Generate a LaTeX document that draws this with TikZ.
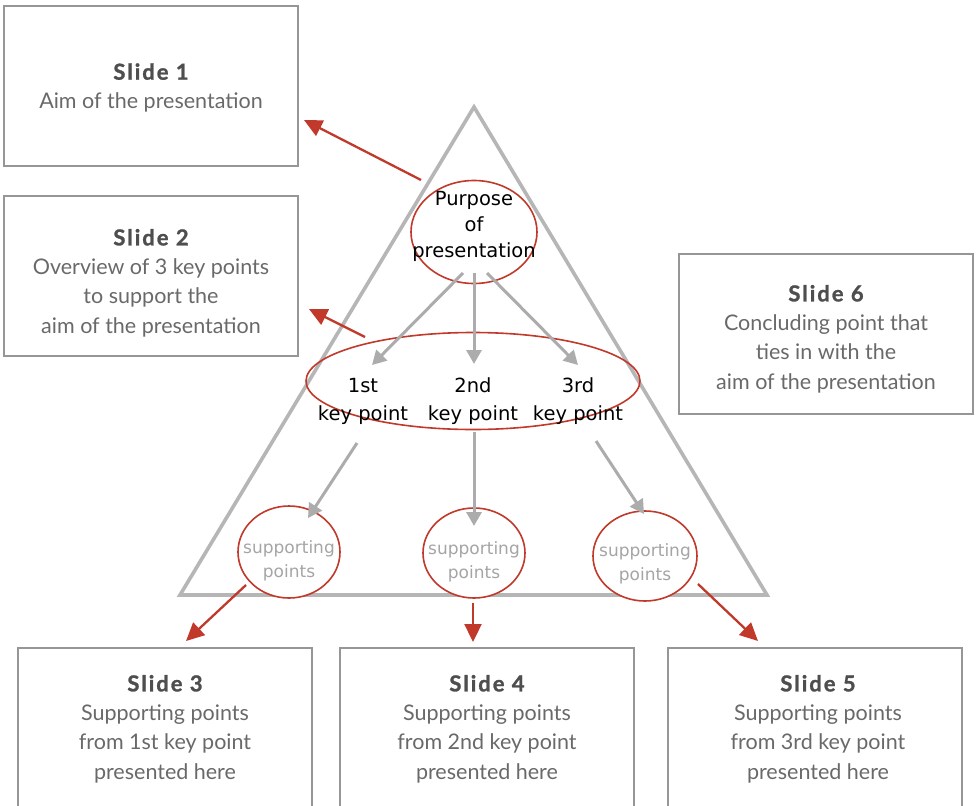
\documentclass[tikz,border=0pt]{standalone}
\usepackage{fontspec}
\setmainfont{Lato}
\newfontfamily\handfont{DejaVu Sans}
\usetikzlibrary{arrows.meta,shapes.geometric}
\definecolor{accent}{RGB}{192,57,43}
\definecolor{tri}{RGB}{182,182,182}
\definecolor{arrowgray}{RGB}{172,172,172}
\definecolor{frame}{RGB}{150,150,150}
\definecolor{titlegray}{RGB}{78,78,78}
\definecolor{bodygray}{RGB}{105,105,105}
\definecolor{softgray}{RGB}{165,165,165}
\begin{document}
\begin{tikzpicture}[x=1pt,y=-1pt,
  slidebox/.style={draw=frame,line width=1.3pt,minimum width=294pt,minimum height=160pt,inner sep=0pt},
  slidetext/.style={align=center,text=bodygray,font=\fontsize{21.5}{29.3}\selectfont,inner sep=0pt},
  hand/.style={font=\handfont\fontsize{19.5}{26}\selectfont,align=center,inner sep=0pt},
  keytext/.style={hand,font=\handfont\fontsize{19.5}{28}\selectfont},
  softtext/.style={hand,text=softgray,font=\handfont\fontsize{17}{24}\selectfont},
  ring/.style={draw=accent,line width=1.6pt,ellipse,inner sep=0pt},
  redarrow/.style={draw=accent,line width=2.3pt,-{Triangle[length=18pt,width=17pt]}},
  grayarrow/.style={draw=arrowgray,line width=3pt,-{Triangle[length=14pt,width=15pt]}}]
\useasboundingbox (0,0) rectangle (978,806);
\clip (0,0) rectangle (978,806);

% slide boxes and their texts
\newcommand{\slidetitle}[1]{{\fontsize{22}{29.3}\selectfont\bfseries\addfontfeature{LetterSpace=9,FakeBold=1.2}\color{titlegray}#1}}
\node[slidebox] (s1) at (151,86) {};
\node[slidebox] (s2) at (151,276) {};
\node[slidebox] (s6) at (826,334) {};
\node[slidebox] (s3) at (165,728) {};
\node[slidebox] (s4) at (487,728) {};
\node[slidebox] (s5) at (815,728) {};
\node[slidetext] (s1t) at (151,88) {\slidetitle{Slide 1}\\Aim of the presentation};
\node[slidetext] (s2t) at (151,283) {\slidetitle{Slide 2}\\Overview of 3 key points\\to support the\\aim of the presentation};
\node[slidetext] (s6t) at (826,339) {\slidetitle{Slide 6}\\Concluding point that\\ties in with the\\aim of the presentation};
\node[slidetext] (s3t) at (165,729) {\slidetitle{Slide 3}\\Supporting points\\from 1st key point\\presented here};
\node[slidetext] (s4t) at (487,729) {\slidetitle{Slide 4}\\Supporting points\\from 2nd key point\\presented here};
\node[slidetext] (s5t) at (818,729) {\slidetitle{Slide 5}\\Supporting points\\from 3rd key point\\presented here};

% the pyramid
\draw[tri,line width=3.6pt,line join=miter] (474,107) -- (767,595) -- (180,595) -- cycle;

% purpose and key points
\node[ring,minimum width=126pt,minimum height=103pt] (purpose) at (474,232) {};
\node[hand] (ptext) at (474,226) {Purpose\\of\\presentation};
\node[ring,minimum width=334pt,minimum height=97pt] (keys) at (473,381) {};
\node[keytext] (k1) at (363,401) {1st\\key point};
\node[keytext] (k2) at (473,401) {2nd\\key point};
\node[keytext] (k3) at (578,401) {3rd\\key point};

% supporting points
\node[ring,fill=white,minimum width=102pt,minimum height=92pt] (c1) at (289,552) {};
\node[ring,fill=white,minimum width=102pt,minimum height=90pt] (c2) at (474,553) {};
\node[ring,fill=white,minimum width=104pt,minimum height=90pt] (c3) at (645,556) {};
\node[softtext] (t1) at (289,561) {supporting\\points};
\node[softtext] (t2) at (474,562) {supporting\\points};
\node[softtext] (t3) at (645,564) {supporting\\points};

% connector ends
\coordinate (pa) at (463,273);
\coordinate (pb) at (474,273);
\coordinate (pc) at (487,273);
\coordinate (ka) at (372,365);
\coordinate (kb) at (474,364);
\coordinate (kc) at (578,365);
\coordinate (la) at (357,443);
\coordinate (lb) at (474,432);
\coordinate (lc) at (596,441);
\coordinate (sa) at (308,518);
\coordinate (sb) at (474,526);
\coordinate (sc) at (644,514);

% gray flow inside the pyramid
\draw[grayarrow] (pa) -- (ka);
\draw[grayarrow] (pb) -- (kb);
\draw[grayarrow] (pc) -- (kc);
\draw[grayarrow] (la) -- (sa);
\draw[grayarrow] (lb) -- (sb);
\draw[grayarrow] (lc) -- (sc);

% red arrows to the slides
\coordinate (r1s) at (421,180);
\coordinate (r1e) at (304,120);
\coordinate (r2s) at (365,337);
\coordinate (r2e) at (309,309);
\coordinate (r3s) at (246,585);
\coordinate (r3e) at (186,641);
\coordinate (r4s) at (473,603);
\coordinate (r4e) at (473,642);
\coordinate (r5s) at (698,584);
\coordinate (r5e) at (758,641);
\draw[redarrow] (r1s) -- (r1e);
\draw[redarrow] (r2s) -- (r2e);
\draw[redarrow] (r3s) -- (r3e);
\draw[redarrow] (r4s) -- (r4e);
\draw[redarrow] (r5s) -- (r5e);
\end{tikzpicture}
\end{document}
